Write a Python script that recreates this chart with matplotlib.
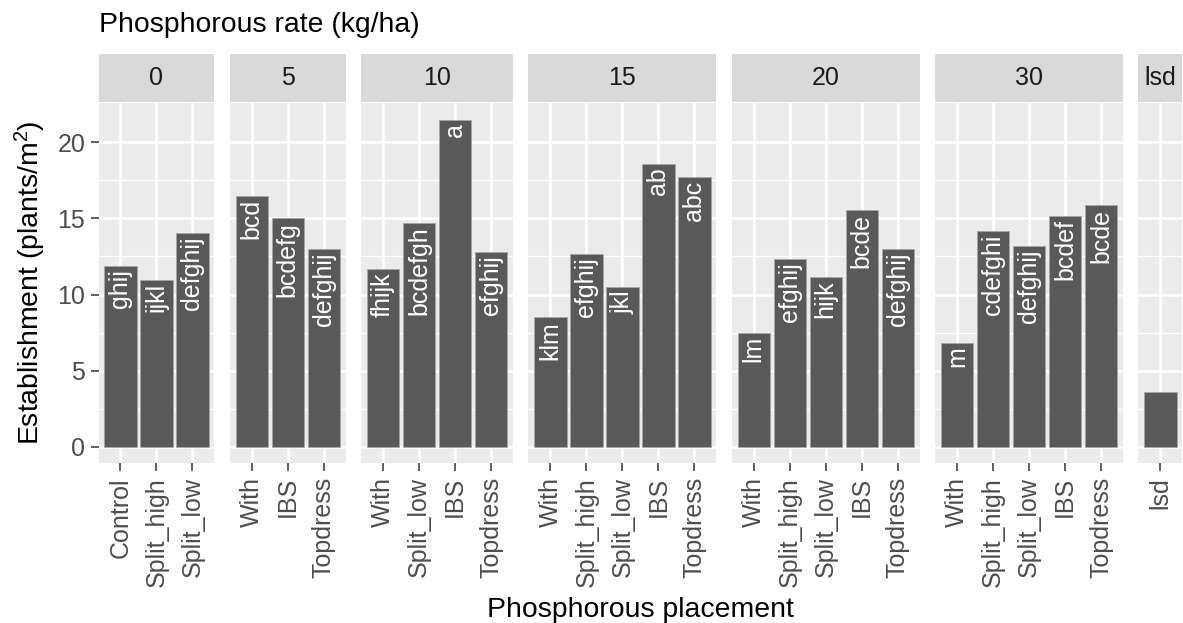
import matplotlib
matplotlib.use("Agg")
import matplotlib.pyplot as plt
import numpy as np

plt.rcParams['font.family'] = ['Liberation Sans', 'DejaVu Sans']
plt.rcParams['mathtext.fontset'] = 'custom'
plt.rcParams['mathtext.rm'] = 'Liberation Sans'
plt.rcParams['mathtext.default'] = 'rm'

# data
rates = ['0', '5', '10', '15', '20', '30', 'lsd']

place_0 = ['Control', 'Split_high', 'Split_low']
est_0 = [11.9, 10.98, 14.03]
grp_0 = ['ghij', 'ijkl', 'defghij']

place_5 = ['With', 'IBS', 'Topdress']
est_5 = [16.5, 15.0, 13.0]
grp_5 = ['bcd', 'bcdefg', 'defghij']

place_10 = ['With', 'Split_low', 'IBS', 'Topdress']
est_10 = [11.69, 14.68, 21.48, 12.82]
grp_10 = ['fhijk', 'bcdefgh', 'a', 'efghij']

place_15 = ['With', 'Split_high', 'Split_low', 'IBS', 'Topdress']
est_15 = [8.5, 12.67, 10.52, 18.58, 17.7]
grp_15 = ['klm', 'efghij', 'jkl', 'ab', 'abc']

place_20 = ['With', 'Split_high', 'Split_low', 'IBS', 'Topdress']
est_20 = [7.5, 12.36, 11.18, 15.54, 13.0]
grp_20 = ['lm', 'efghij', 'hijk', 'bcde', 'defghij']

place_30 = ['With', 'Split_high', 'Split_low', 'IBS', 'Topdress']
est_30 = [6.83, 14.18, 13.17, 15.17, 15.86]
grp_30 = ['m', 'cdefghi', 'defghij', 'bcdef', 'bcde']

place_lsd = ['lsd']
est_lsd = [3.63]
grp_lsd = ['']

places = [place_0, place_5, place_10, place_15, place_20, place_30, place_lsd]
ests = [est_0, est_5, est_10, est_15, est_20, est_30, est_lsd]
grps = [grp_0, grp_5, grp_10, grp_15, grp_20, grp_30, grp_lsd]

W, H = 1183, 623
fig = plt.figure(figsize=(W / 100, H / 100), dpi=100)

# layout in pixels
left = 98.5
gap = 15.4
unit = 36.0
pad = 0.11
p_top, p_bot = 103.3, 463.3
s_top, s_bot = 54.3, 102.3

ymax = max(max(e) for e in ests)
ylim = (-0.05 * ymax, 1.05 * ymax)

x = left
for k, (rate, pl, ev, gr) in enumerate(zip(rates, places, ests, grps)):
    n = len(pl)
    w = unit * (n + 2 * pad)
    ax = fig.add_axes([x / W, 1 - p_bot / H, w / W, (p_bot - p_top) / H])
    ax.set_facecolor('#EBEBEB')
    pos = np.arange(n)
    ax.bar(pos, ev, width=0.9, color='#595959', edgecolor='#A6A6A6',
           linewidth=0.6, zorder=3)
    for i, (v, g) in enumerate(zip(ev, gr)):
        if g:
            ax.annotate(g, (i, v), xytext=(0, -2.5), textcoords='offset points',
                        rotation=90, ha='center', va='top', color='white',
                        fontsize=18, zorder=4)
    ax.set_xlim(-0.5 - pad, n - 0.5 + pad)
    ax.set_ylim(*ylim)
    ax.set_yticks([0, 5, 10, 15, 20])
    ax.set_yticks([2.5, 7.5, 12.5, 17.5], minor=True)
    ax.set_xticks(pos)
    ax.set_xticklabels(pl, rotation=90, fontsize=18, color='#4D4D4D')
    ax.grid(which='major', color='white', linewidth=1.8, zorder=1)
    ax.grid(which='minor', axis='y', color='white', linewidth=0.9, zorder=1)
    ax.set_axisbelow(True)
    for sp in ax.spines.values():
        sp.set_visible(False)
    ax.tick_params(axis='x', length=5.5, width=1.1, color='#333333', pad=4.5)
    ax.tick_params(which='minor', length=0)
    if k == 0:
        ax.tick_params(axis='y', length=5.5, width=1.1, color='#333333',
                       labelsize=18, labelcolor='#4D4D4D', pad=4)
    else:
        ax.tick_params(axis='y', length=0, labelleft=False)

    sx = fig.add_axes([x / W, 1 - s_bot / H, w / W, (s_bot - s_top) / H])
    sx.set_facecolor('#D9D9D9')
    sx.set_xticks([])
    sx.set_yticks([])
    for sp in sx.spines.values():
        sp.set_visible(False)
    sx.text(0.5, 0.5, rate, ha='center', va='center', fontsize=18,
            color='#1A1A1A', transform=sx.transAxes)
    x += w + gap

fig.text(99 / W, 1 - 32 / H, 'Phosphorous rate (kg/ha)', fontsize=20.4,
         va='baseline', ha='left')
fig.text(640 / W, 1 - 617 / H, 'Phosphorous placement', fontsize=20.4,
         va='baseline', ha='center')
fig.text(30 / W, 1 - 283 / H, r'Establishment (plants/m$^2$)', fontsize=20.4,
         rotation=90, va='center', ha='center')

fig.savefig('out.png', dpi=100)
